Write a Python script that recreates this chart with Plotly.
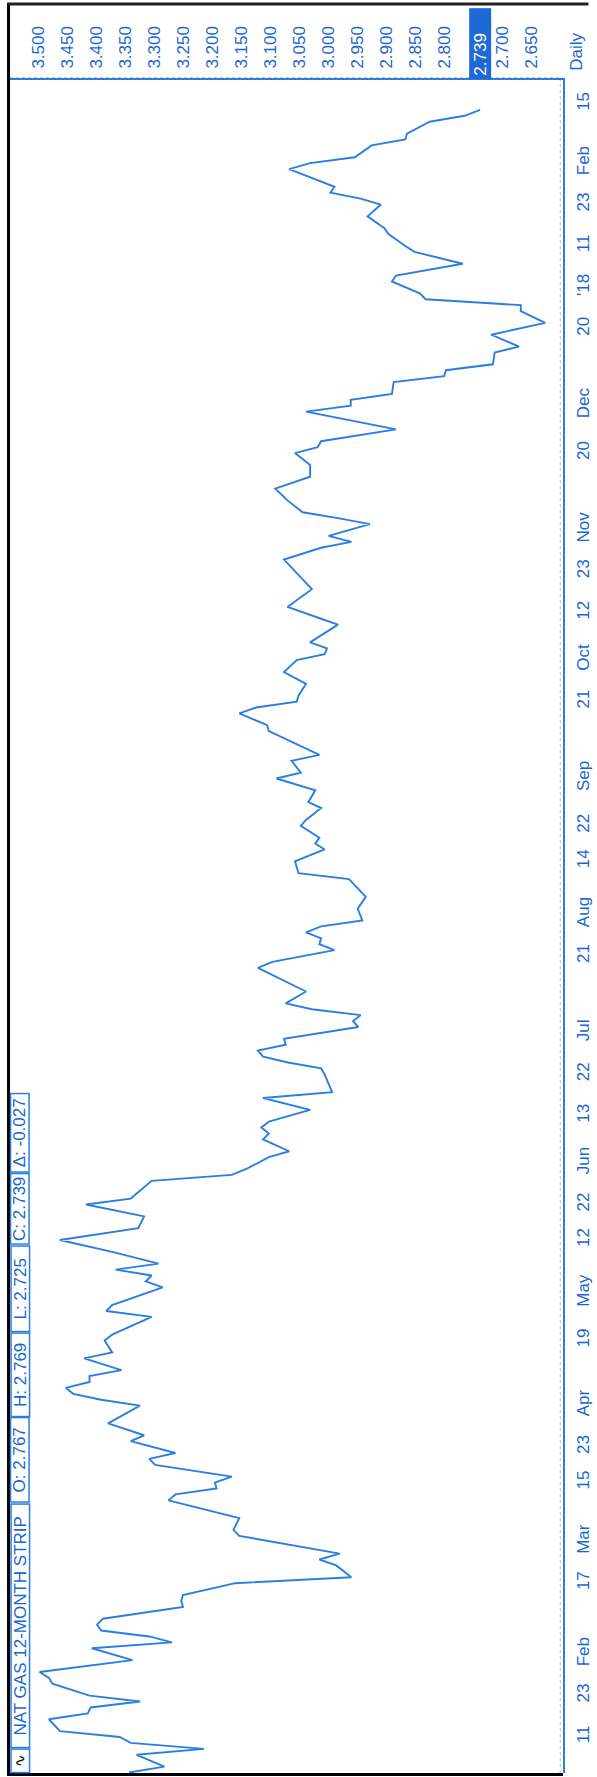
import numpy as np
import plotly.graph_objects as go

# ---------------- data ----------------
START = "2017-01-03"          # trading session 0
HOLIDAYS = ["2017-01-16", "2017-02-20", "2017-04-14", "2017-05-29", "2017-07-04",
            "2017-09-04", "2017-11-23", "2017-12-25", "2018-01-01", "2018-01-15",
            "2018-02-19"]

# trading-session number (0 = 2017-01-03) and 12-month strip price
session = [0, 1, 3, 4, 5, 6, 7, 9, 10, 11, 12, 13, 15, 16, 17, 19, 21, 22, 23, 24,
           25, 26, 28, 29, 30, 32, 33, 35, 36, 37, 40, 41, 43, 46, 47, 48, 49, 50, 52, 53,
           54, 56, 57, 59, 62, 63, 64, 65, 66, 67, 68, 70, 71, 73, 74, 77, 78, 79, 82, 83,
           84, 85, 86, 88, 90, 92, 94, 96, 97, 99, 100, 101, 102, 104, 105, 107, 108, 109, 110, 112,
           114, 115, 118, 119, 120, 121, 122, 123, 124, 126, 127, 128, 129, 130, 132, 136, 137, 139, 140, 141,
           142, 143, 144, 146, 148, 151, 152, 154, 156, 157, 158, 160, 161, 163, 164, 166, 168, 169, 171, 172,
           176, 177, 179, 180, 181, 182, 184, 186, 188, 189, 190, 191, 194, 195, 197, 200, 205, 207, 208, 209,
           211, 212, 213, 215, 217, 219, 221, 223, 224, 225, 227, 230, 231, 232, 233, 235, 236, 237, 238, 240,
           241, 243, 245, 247, 248, 249, 250, 252, 253, 255, 257, 258, 260, 261, 263, 265, 266, 267, 268, 271,
           272, 273, 275, 276, 277, 279, 280, 281]
price = [3.344, 3.283, 3.331, 3.215, 3.341, 3.360, 3.463, 3.482, 3.415, 3.410, 3.325, 3.412, 3.476, 3.482, 3.498, 3.338, 3.408, 3.270, 3.309, 3.392,
         3.399, 3.389, 3.251, 3.254, 3.251, 3.161, 2.961, 2.987, 3.016, 2.981, 3.154, 3.164, 3.154, 3.276, 3.264, 3.193, 3.196, 3.167, 3.299, 3.309,
         3.264, 3.341, 3.318, 3.380, 3.325, 3.392, 3.440, 3.453, 3.412, 3.412, 3.357, 3.421, 3.373, 3.386, 3.373, 3.305, 3.383, 3.373, 3.286, 3.315,
         3.305, 3.367, 3.293, 3.373, 3.463, 3.328, 3.318, 3.418, 3.341, 3.318, 3.305, 3.167, 3.142, 3.103, 3.068, 3.113, 3.103, 3.116, 3.103, 3.032,
         3.113, 2.994, 3.007, 3.013, 3.070, 3.113, 3.122, 3.074, 3.077, 2.949, 2.958, 2.945, 3.029, 3.074, 3.039, 3.122, 3.097, 2.990, 3.016, 3.013,
         3.039, 3.013, 2.942, 2.950, 2.936, 2.965, 3.052, 3.058, 3.007, 3.023, 3.016, 3.048, 3.039, 3.013, 3.035, 3.023, 3.090, 3.048, 3.064, 3.016,
         3.103, 3.106, 3.154, 3.125, 3.055, 3.052, 3.039, 3.077, 3.055, 3.007, 3.003, 3.032, 2.984, 3.013, 3.071, 3.029, 3.077, 3.013, 2.961, 3.000,
         2.929, 2.984, 3.045, 3.071, 3.092, 3.032, 3.032, 3.058, 3.019, 3.013, 2.884, 3.039, 2.962, 2.962, 2.891, 2.888, 2.801, 2.798, 2.717, 2.714,
         2.672, 2.720, 2.627, 2.669, 2.669, 2.833, 2.843, 2.891, 2.884, 2.769, 2.852, 2.868, 2.897, 2.904, 2.933, 2.910, 2.945, 2.997, 2.990, 3.068,
         3.032, 2.955, 2.926, 2.868, 2.865, 2.826, 2.766, 2.739]

tick_dates = ["2017-01-11", "2017-01-23", "2017-02-01", "2017-02-17", "2017-03-01", "2017-03-15",
              "2017-03-23", "2017-04-03", "2017-04-19", "2017-05-01", "2017-05-12", "2017-05-22",
              "2017-06-01", "2017-06-13", "2017-06-22", "2017-07-03", "2017-07-21", "2017-08-01",
              "2017-08-14", "2017-08-22", "2017-09-01", "2017-09-21", "2017-10-02", "2017-10-12",
              "2017-10-23", "2017-11-01", "2017-11-20", "2017-12-01", "2017-12-20", "2018-01-02",
              "2018-01-11", "2018-01-23", "2018-02-01", "2018-02-15"]
tick_text = ["11", "23", "Feb", "17", "Mar", "15", "23", "Apr", "19", "May", "12", "22",
             "Jun", "13", "22", "Jul", "21", "Aug", "14", "22", "Sep", "21", "Oct", "12",
             "23", "Nov", "20", "Dec", "20", "'18", "11", "23", "Feb", "15"]

price_ticks = [3.50, 3.45, 3.40, 3.35, 3.30, 3.25, 3.20, 3.15, 3.10, 3.05, 3.00,
               2.95, 2.90, 2.85, 2.80, 2.70, 2.65]

last_close = 2.739
header_cells = ["NAT GAS 12-MONTH STRIP", "O: 2.767", "H: 2.769", "L: 2.725", "C: 2.739", "Δ: -0.027"]

# ---------------- style ----------------
BLUE_TXT = "#1a66d2"
BLUE_LINE = "#2a7ee2"
FONT = "Liberation Sans, Arial, sans-serif"
W, H = 597, 1777
ML, MR, MT, MB = 10, 23, 80, 4
PW, PH = W - ML - MR, H - MT - MB

def px_x(px):
    return (px - ML) / PW

def px_y(py):
    return (H - MB - py) / PH

tick_pos = np.busday_count(START, tick_dates, holidays=HOLIDAYS)

fig = go.Figure()
fig.add_trace(go.Scatter(x=price, y=session, mode="lines",
                         line=dict(color=BLUE_LINE, width=1.9), hoverinfo="skip"))

fig.update_layout(
    width=W, height=H,
    margin=dict(l=ML, r=MR, t=MT, b=MB),
    paper_bgcolor="white", plot_bgcolor="white",
    showlegend=False, hovermode=False,
    xaxis=dict(side="top", range=[3.549, 2.5963], tickmode="array",
               tickvals=price_ticks, ticktext=[f"{v:.3f}" for v in price_ticks],
               tickangle=-90, tickfont=dict(family=FONT, size=17, color=BLUE_TXT),
               showgrid=False, zeroline=False, ticks="", ticklabelstandoff=6,
               showline=True, linecolor=BLUE_LINE, linewidth=2),
    yaxis=dict(side="right", range=[-0.08, 286.05], tickmode="array",
               tickvals=tick_pos, ticktext=tick_text,
               tickangle=-90, tickfont=dict(family=FONT, size=17, color=BLUE_TXT),
               showgrid=False, zeroline=False, ticks="", ticklabelstandoff=4,
               showline=True, linecolor=BLUE_LINE, linewidth=2),
)

shapes = [
    # scan frame (black)
    dict(type="line", xref="paper", yref="paper", x0=px_x(8.5), x1=px_x(8.5),
         y0=px_y(1775), y1=px_y(3), line=dict(color="black", width=3)),
    dict(type="line", xref="paper", yref="paper", x0=px_x(7), x1=px_x(600),
         y0=px_y(4), y1=px_y(4), line=dict(color="#222", width=3)),
    dict(type="line", xref="paper", yref="paper", x0=px_x(7), x1=px_x(574),
         y0=px_y(1774.5), y1=px_y(1774.5), line=dict(color="black", width=3)),
    # grey shadow of the plot frame
    dict(type="line", xref="paper", yref="paper", x0=0, x1=1,
         y0=px_y(77.5), y1=px_y(77.5), line=dict(color="#c8c8c8", width=1.2, dash="dot")),
    dict(type="line", xref="paper", yref="paper", x0=px_x(571.3), x1=px_x(571.3),
         y0=0, y1=1, line=dict(color="#c8c8c8", width=1.2, dash="dot")),
]
fig.update_layout(shapes=shapes)

ann = []
# header cells along the left edge (read bottom-to-top)
cells = [("∿", 1748, 1773)] + list(zip(header_cells,
                                         [1503, 1417, 1332, 1245, 1173, 1093],
                                         [1748, 1503, 1417, 1332, 1245, 1173]))
for i, (txt, top, bot) in enumerate(cells):
    ann.append(dict(
        text=txt, xref="paper", yref="paper",
        x=px_x(20), y=px_y((top + bot) / 2), xanchor="center", yanchor="middle",
        showarrow=False, textangle=-90, width=bot - top - 3, height=17,
        borderpad=0, borderwidth=1.5, bordercolor=BLUE_LINE, bgcolor="white",
        font=dict(family=("DejaVu Sans" if i == 0 else FONT), size=(15 if i == 0 else 17),
                  color=("black" if i == 0 else BLUE_TXT)),
    ))

# highlighted current price on the price scale
ann.append(dict(text=f"{last_close:.3f}", xref="x", yref="paper", x=last_close,
                y=px_y(43.5), xanchor="center", yanchor="middle", showarrow=False,
                textangle=-90, width=64, height=15, borderpad=3, align="left",
                bgcolor="#1d6ad6", font=dict(family=FONT, size=17, color="white")))
# periodicity label
ann.append(dict(text="Daily", xref="paper", yref="paper", x=px_x(588), y=px_y(52),
                xanchor="center", yanchor="middle", showarrow=False, textangle=-90,
                font=dict(family=FONT, size=17, color=BLUE_TXT)))
fig.update_layout(annotations=ann)

fig.write_html("out.html", config={"displayModeBar": False},
               post_script="document.body.style.margin='0';"
                           "document.documentElement.style.overflow='hidden';")
